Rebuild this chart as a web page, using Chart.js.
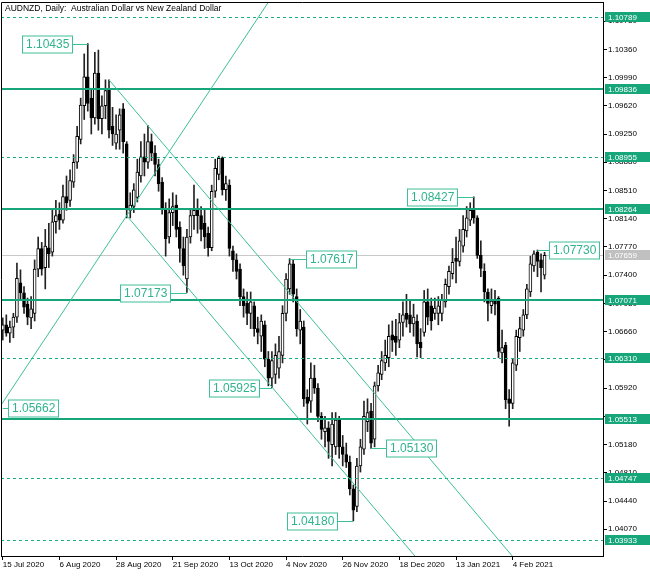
<!DOCTYPE html>
<html>
<head>
<meta charset="utf-8">
<script src="https://cdn.jsdelivr.net/npm/chart.js@4/dist/chart.umd.min.js"></script>
<style>
  html, body { margin: 0; padding: 0; background: #fff; }
  canvas { display: block; }
</style>
</head>
<body>
<canvas id="chart" width="650" height="576"></canvas>
<script>
// AUDNZD daily candles, 15 Jul 2020 .. mid Feb 2021
const opens = [
  1.0668, 1.0675, 1.0664, 1.0672, 1.0685, 1.0730, 1.0717, 1.0702, 1.0684, 1.0690,
  1.0748, 1.0775, 1.0750, 1.0776, 1.0770, 1.0810, 1.0820, 1.0812, 1.0843, 1.0838,
  1.0862, 1.0888, 1.0918, 1.0962, 1.1000, 1.0972, 1.0946, 1.1005, 1.0945, 1.0962,
  1.0985, 1.0935, 1.0913, 1.0930, 1.0958, 1.0912, 1.0825, 1.0830, 1.0842, 1.0870,
  1.0895, 1.0888, 1.0915, 1.0900, 1.0885, 1.0862, 1.0828, 1.0790, 1.0822, 1.0832,
  1.0803, 1.0775, 1.0735, 1.0790, 1.0818, 1.0825, 1.0818, 1.0808, 1.0795, 1.0776,
  1.0850, 1.0872, 1.0893, 1.0852, 1.0858, 1.0772, 1.0760, 1.0748, 1.0712, 1.0703,
  1.0690, 1.0700, 1.0670, 1.0660, 1.0675, 1.0630, 1.0605, 1.0610, 1.0618, 1.0635,
  1.0690, 1.0722, 1.0755, 1.0712, 1.0668, 1.0672, 1.0580, 1.0575, 1.0605, 1.0592,
  1.0555, 1.0535, 1.0540, 1.0518, 1.0515, 1.0550, 1.0515, 1.0505, 1.0495, 1.0460,
  1.0437, 1.0490, 1.0512, 1.0548, 1.0562, 1.0525, 1.0595, 1.0610, 1.0625, 1.0632,
  1.0662, 1.0660, 1.0655, 1.0678, 1.0690, 1.0688, 1.0676, 1.0680, 1.0652, 1.0665,
  1.0705, 1.0700, 1.0690, 1.0690, 1.0690, 1.0705, 1.0725, 1.0742, 1.0762, 1.0758,
  1.0778, 1.0798, 1.0812, 1.0825, 1.0815, 1.0766, 1.0745, 1.0718, 1.0700, 1.0708,
  1.0710, 1.0638, 1.0648, 1.0578, 1.0572, 1.0622, 1.0658, 1.0668, 1.0688, 1.0718,
  1.0752, 1.0770, 1.0760, 1.0740
];
const highs = [
  1.0684, 1.0688, 1.0680, 1.0690, 1.0756, 1.0747, 1.0725, 1.0710, 1.0712, 1.0760,
  1.0790, 1.0783, 1.0800, 1.0808, 1.0825, 1.0838, 1.0835, 1.0858, 1.0870, 1.0878,
  1.0898, 1.0935, 1.0972, 1.1030, 1.10435, 1.0985, 1.1032, 1.1035, 1.0975, 1.0996,
  1.0996, 1.0960, 1.0950, 1.0958, 1.0965, 1.0915, 1.0848, 1.0860, 1.0892, 1.0915,
  1.0925, 1.0936, 1.0925, 1.0910, 1.0892, 1.0868, 1.0835, 1.0840, 1.0848, 1.0845,
  1.0810, 1.0790, 1.0800, 1.0825, 1.0858, 1.0840, 1.0830, 1.0825, 1.0803, 1.0858,
  1.0892, 1.0896, 1.0895, 1.0870, 1.0865, 1.0778, 1.0768, 1.0755, 1.0722, 1.0718,
  1.0718, 1.0705, 1.0685, 1.0688, 1.0680, 1.0640, 1.0640, 1.0650, 1.0660, 1.0700,
  1.0742, 1.07617, 1.0760, 1.0722, 1.0695, 1.0680, 1.0590, 1.0625, 1.0622, 1.0598,
  1.0560, 1.0555, 1.0548, 1.0560, 1.0560, 1.0555, 1.0530, 1.0520, 1.0503, 1.0465,
  1.0500, 1.0525, 1.0575, 1.0578, 1.0572, 1.0600, 1.0622, 1.0640, 1.0655, 1.0675,
  1.0680, 1.0682, 1.0690, 1.0705, 1.0715, 1.0707, 1.0702, 1.0688, 1.0670, 1.0720,
  1.0722, 1.0710, 1.0710, 1.0712, 1.0715, 1.0735, 1.0752, 1.0775, 1.0790, 1.0800,
  1.0818, 1.0830, 1.0835, 1.08427, 1.0818, 1.0785, 1.0755, 1.0722, 1.0722, 1.0720,
  1.0712, 1.0668, 1.0652, 1.0590, 1.0630, 1.0668, 1.0685, 1.0695, 1.0728, 1.0765,
  1.0772, 1.07730, 1.0768, 1.0770
];
const lows = [
  1.0655, 1.0660, 1.0652, 1.0658, 1.0678, 1.0707, 1.0690, 1.0675, 1.0670, 1.0680,
  1.0738, 1.0740, 1.0722, 1.0750, 1.0765, 1.0795, 1.0800, 1.0808, 1.0825, 1.0830,
  1.0855, 1.0880, 1.0912, 1.0944, 1.0955, 1.0925, 1.0938, 1.0930, 1.0925, 1.0945,
  1.0920, 1.0910, 1.0905, 1.0905, 1.0900, 1.0815, 1.0815, 1.0822, 1.0836, 1.0862,
  1.0870, 1.0880, 1.0890, 1.0870, 1.0850, 1.0820, 1.0765, 1.0782, 1.0805, 1.0790,
  1.0757, 1.0740, 1.07173, 1.0782, 1.0800, 1.0795, 1.0785, 1.0775, 1.0765, 1.0772,
  1.0842, 1.0865, 1.0845, 1.0838, 1.0765, 1.0745, 1.0735, 1.0700, 1.0685, 1.0675,
  1.0670, 1.0660, 1.0650, 1.0640, 1.0620, 1.0595, 1.05925, 1.0598, 1.0605, 1.0625,
  1.0680, 1.0715, 1.0705, 1.0660, 1.0650, 1.0568, 1.0545, 1.0560, 1.0585, 1.0548,
  1.0525, 1.0515, 1.0500, 1.0490, 1.0505, 1.0500, 1.0490, 1.0488, 1.0452, 1.04180,
  1.0430, 1.0482, 1.0505, 1.0535, 1.05130, 1.0515, 1.0588, 1.0603, 1.0615, 1.0620,
  1.0640, 1.0635, 1.0645, 1.0660, 1.0672, 1.0665, 1.0660, 1.0633, 1.0632, 1.0660,
  1.0675, 1.0668, 1.0682, 1.0675, 1.0680, 1.0698, 1.0715, 1.0735, 1.0730, 1.0752,
  1.0770, 1.0790, 1.0805, 1.0808, 1.0762, 1.0738, 1.0705, 1.0680, 1.0690, 1.0688,
  1.0632, 1.0625, 1.0565, 1.0542, 1.0565, 1.0615, 1.0640, 1.0660, 1.0683, 1.0712,
  1.0745, 1.0738, 1.0718, 1.0735
];
const closes = [
  1.0675, 1.0664, 1.0672, 1.0685, 1.0736, 1.0717, 1.0698, 1.0685, 1.0696, 1.0748,
  1.0775, 1.0748, 1.0778, 1.0768, 1.0810, 1.0818, 1.0812, 1.0843, 1.0835, 1.0864,
  1.0888, 1.0922, 1.0963, 1.1000, 1.0965, 1.0946, 1.1005, 1.0945, 1.0962, 1.0982,
  1.0930, 1.0925, 1.0925, 1.0950, 1.0915, 1.0828, 1.0832, 1.0852, 1.0875, 1.0895,
  1.0888, 1.0915, 1.0900, 1.0885, 1.0860, 1.0828, 1.0788, 1.0822, 1.0830, 1.0800,
  1.0775, 1.0752, 1.0790, 1.0818, 1.0825, 1.0818, 1.0800, 1.0790, 1.0776, 1.0850,
  1.0880, 1.0893, 1.0852, 1.0860, 1.0775, 1.0760, 1.0745, 1.0712, 1.0700, 1.0690,
  1.0705, 1.0670, 1.0665, 1.0680, 1.0630, 1.0605, 1.0628, 1.0635, 1.0640, 1.0690,
  1.0735, 1.0755, 1.0715, 1.0670, 1.0680, 1.0578, 1.0572, 1.0605, 1.0592, 1.0555,
  1.0538, 1.0540, 1.0522, 1.0545, 1.0550, 1.0515, 1.0505, 1.0495, 1.0460, 1.0432,
  1.0490, 1.0515, 1.0555, 1.0560, 1.0520, 1.0595, 1.0612, 1.0628, 1.0635, 1.0660,
  1.0655, 1.0652, 1.0678, 1.0688, 1.0682, 1.0676, 1.0685, 1.0650, 1.0645, 1.0705,
  1.0685, 1.0680, 1.0697, 1.0700, 1.0707, 1.0728, 1.0745, 1.0757, 1.0758, 1.0785,
  1.0800, 1.0815, 1.0825, 1.0815, 1.0766, 1.0749, 1.0718, 1.0703, 1.0706, 1.0702,
  1.0640, 1.0645, 1.0577, 1.0572, 1.0625, 1.0660, 1.0670, 1.0688, 1.0722, 1.0755,
  1.0768, 1.0758, 1.0750, 1.07659
];

// one slot per trading day, the chart leaves empty room on the right
const slotCount = 170;
const dateTicks = ['15 Jul 2020', '6 Aug 2020', '28 Aug 2020', '21 Sep 2020', '13 Oct 2020',
                   '4 Nov 2020', '26 Nov 2020', '18 Dec 2020', '13 Jan 2021', '4 Feb 2021'];
const ticksEvery = 16;

const yMin = 1.03720;
const yMax = 1.10980;
const yTicks = [1.04070, 1.04440, 1.04810, 1.05180, 1.05550, 1.05920, 1.06290, 1.06660,
                1.07030, 1.07400, 1.07770, 1.08140, 1.08510, 1.08880, 1.09250, 1.09620,
                1.09990, 1.10360, 1.10730];

// horizontal levels
const solidLevels = [1.09836, 1.08264, 1.07071, 1.05513];
const dashedLevels = [1.10789, 1.08955, 1.06310, 1.04747, 1.03933];
const lastPrice = 1.07659;

// trend lines: [bar, price] -> [bar, price], ray = extend past the second point
const trendLines = [
  { from: [-1, 1.05662], to: [35, 1.0818], ray: true },
  { from: [30, 1.0996], to: [150, 1.03384], ray: true },
  { from: [35, 1.0818], to: [120, 1.03522], ray: true }
];

// price notes: anchor bar, price, and which side the box sits on
const notes = [
  { text: '1.10435', bar: 24, price: 1.10435, dx: -15 },
  { text: '1.08427', bar: 133, price: 1.08427, dx: -16 },
  { text: '1.07730', bar: 151, price: 1.07730, dx: 12 },
  { text: '1.07617', bar: 81, price: 1.07617, dx: 16 },
  { text: '1.07173', bar: 52, price: 1.07173, dx: -16 },
  { text: '1.05925', bar: 76, price: 1.05925, dx: -12 },
  { text: '1.05662', bar: 0, price: 1.05662, dx: 5 },
  { text: '1.05130', bar: 104, price: 1.05130, dx: 15 },
  { text: '1.04180', bar: 99, price: 1.04180, dx: -15 }
];

const GREEN = '#16a67a';
const GREEN_LIGHT = '#3dbf98';
const FONT = '"Liberation Sans", Arial, sans-serif';

const overlay = {
  id: 'overlay',
  beforeDatasetsDraw(chart) {
    const { ctx, chartArea: a, scales: { y } } = chart;
    ctx.save();
    ctx.strokeStyle = '#c8c8c8';
    ctx.lineWidth = 1;
    const py = Math.round(y.getPixelForValue(lastPrice)) + 0.5;
    ctx.beginPath(); ctx.moveTo(a.left, py); ctx.lineTo(a.right, py); ctx.stroke();
    ctx.restore();
  },
  afterDatasetsDraw(chart) {
    const { ctx, chartArea: a, scales: { x, y } } = chart;
    const x0 = x.getPixelForValue(0);
    const step = x.getPixelForValue(1) - x0;
    const xAt = i => x0 + i * step;

    ctx.save();
    ctx.beginPath(); ctx.rect(a.left, a.top, a.right - a.left, a.bottom - a.top); ctx.clip();

    ctx.strokeStyle = GREEN;
    ctx.lineWidth = 2;
    solidLevels.forEach(p => {
      const py = Math.round(y.getPixelForValue(p));
      ctx.beginPath(); ctx.moveTo(a.left, py); ctx.lineTo(a.right, py); ctx.stroke();
    });
    ctx.lineWidth = 1;
    ctx.strokeStyle = '#1aae80';
    ctx.setLineDash([3, 3]);
    dashedLevels.forEach(p => {
      const py = Math.round(y.getPixelForValue(p)) + 0.5;
      ctx.beginPath(); ctx.moveTo(a.left, py); ctx.lineTo(a.right, py); ctx.stroke();
    });
    ctx.setLineDash([]);

    ctx.strokeStyle = GREEN_LIGHT;
    ctx.lineWidth = 1;
    trendLines.forEach(t => {
      const xa = xAt(t.from[0]), ya = y.getPixelForValue(t.from[1]);
      let xb = xAt(t.to[0]), yb = y.getPixelForValue(t.to[1]);
      if (t.ray) { xb = xa + (xb - xa) * 10; yb = ya + (yb - ya) * 10; }
      ctx.beginPath(); ctx.moveTo(xa, ya); ctx.lineTo(xb, yb); ctx.stroke();
    });

    // price notes
    ctx.font = '12px ' + FONT;
    ctx.textBaseline = 'middle';
    notes.forEach(n => {
      const ax = xAt(n.bar);
      const py = Math.round(y.getPixelForValue(n.price)) + 0.5;
      const w = Math.ceil(ctx.measureText(n.text).width) + 7;
      const h = 17;
      const left = n.dx < 0 ? Math.round(ax + n.dx - w) : Math.round(ax + n.dx);
      ctx.strokeStyle = GREEN_LIGHT;
      ctx.beginPath();
      if (n.dx < 0) { ctx.moveTo(left + w, py); ctx.lineTo(ax, py); }
      else { ctx.moveTo(ax, py); ctx.lineTo(left, py); }
      ctx.stroke();
      ctx.fillStyle = '#fff';
      ctx.fillRect(left, py - h / 2, w, h);
      ctx.strokeRect(left + 0.5, py - h / 2, w - 1, h);
      ctx.fillStyle = '#2fb48c';
      ctx.fillText(n.text, left + 4, py + 0.5);
    });
    ctx.restore();

    // level tags on the price axis
    ctx.save();
    ctx.font = '8px ' + FONT;
    ctx.textBaseline = 'middle';
    const tag = (p, bg) => {
      const py = Math.round(y.getPixelForValue(p));
      ctx.fillStyle = bg;
      ctx.fillRect(a.right + 2, py - 5, chart.width - a.right - 2, 10);
      ctx.fillStyle = '#fff';
      ctx.fillText(p.toFixed(5), a.right + 5, py + 0.5);
    };
    solidLevels.concat(dashedLevels).forEach(p => tag(p, GREEN));
    tag(lastPrice, '#c0c0c0');

    // frame and caption
    ctx.strokeStyle = '#000';
    ctx.lineWidth = 1;
    ctx.beginPath();
    ctx.moveTo(a.left + 0.5, a.bottom); ctx.lineTo(a.left + 0.5, a.top + 0.5); ctx.lineTo(a.right, a.top + 0.5);
    ctx.stroke();
    ctx.fillStyle = '#000';
    ctx.font = '8.5px ' + FONT;
    ctx.fillText('AUDNZD, Daily:  Australian Dollar vs New Zealand Dollar', a.left + 4, a.top + 7);
    ctx.restore();
  }
};

const labels = Array.from({ length: slotCount }, (_, i) => String(i));
const tickFont = { family: FONT, size: 8 };
const noPadding = s => { s.paddingTop = 0; s.paddingBottom = 0; s.paddingLeft = 0; s.paddingRight = 0; };

new Chart(document.getElementById('chart'), {
  type: 'bar',
  data: {
    labels: labels,
    datasets: [
      {
        label: 'wick',
        data: lows.map((l, i) => [l, highs[i]]),
        backgroundColor: '#222',
        barThickness: 1,
        grouped: false,
        order: 2
      },
      {
        label: 'body',
        data: opens.map((o, i) => [o, closes[i]]),
        backgroundColor: ctx => closes[ctx.dataIndex] >= opens[ctx.dataIndex] ? '#fff' : '#000',
        borderColor: '#000',
        borderWidth: 1,
        borderSkipped: false,
        barThickness: 3,
        grouped: false,
        order: 1
      }
    ]
  },
  options: {
    responsive: false,
    devicePixelRatio: 1,
    animation: false,
    layout: { padding: { left: 1, top: 2, right: 0, bottom: 0 } },
    plugins: { legend: { display: false }, tooltip: { enabled: false } },
    scales: {
      x: {
        offset: true,
        afterFit: s => { s.height = 20; noPadding(s); },
        grid: { offset: false, drawOnChartArea: false, tickLength: 4, color: '#000' },
        border: { color: '#000' },
        ticks: {
          autoSkip: false, maxRotation: 0, minRotation: 0, align: 'start', padding: 0,
          color: '#000', font: tickFont,
          callback: (v, i) => (i % ticksEvery === 0 && dateTicks[i / ticksEvery]) ? dateTicks[i / ticksEvery] : null
        }
      },
      y: {
        position: 'right',
        min: yMin,
        max: yMax,
        afterBuildTicks: s => { s.ticks = yTicks.map(v => ({ value: v })); },
        afterFit: s => { s.width = 47; noPadding(s); },
        grid: { drawOnChartArea: false, tickLength: 4, color: '#000' },
        border: { color: '#000' },
        ticks: { color: '#000', font: tickFont, padding: 1, callback: v => Number(v).toFixed(5) }
      }
    }
  },
  plugins: [overlay]
});
</script>
</body>
</html>
